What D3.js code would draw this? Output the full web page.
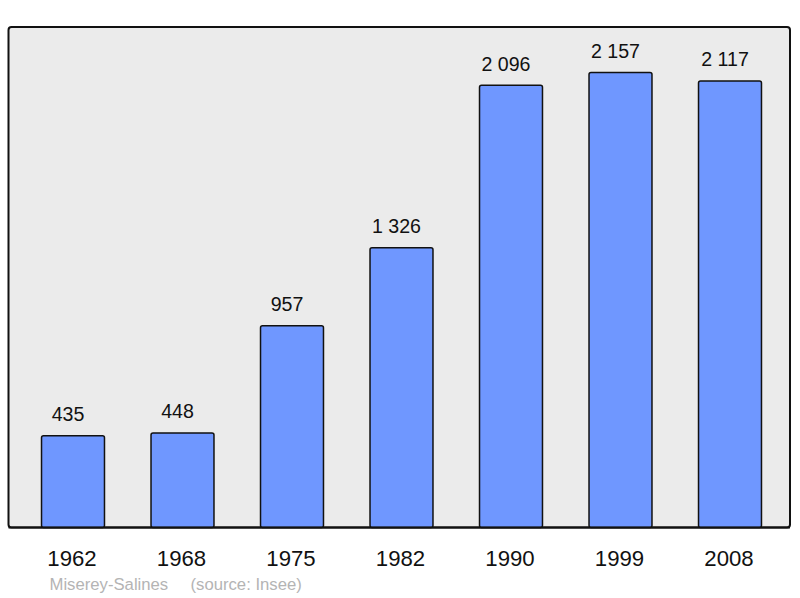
<!DOCTYPE html>
<html>
<head>
<meta charset="utf-8">
<script src="https://cdn.jsdelivr.net/npm/d3@7"></script>
<style>
  body { margin: 0; background: #fff; }
  text { font-family: "Liberation Sans", Arial, sans-serif; }
</style>
</head>
<body>
<div id="chart"></div>
<script>
// population by census year
var years = ["1962", "1968", "1975", "1982", "1990", "1999", "2008"];
var population = [435, 448, 957, 1326, 2096, 2157, 2117];
var valueLabels = ["435", "448", "957", "1 326", "2 096", "2 157", "2 117"];
var townName = "Miserey-Salines";
var sourceText = "(source: Insee)";

var width = 800, height = 598;
var panel = {left: 8.5, top: 27, right: 790, bottom: 527.5};

var svg = d3.select("#chart")
  .append("svg")
    .attr("width", width)
    .attr("height", height);

// background panel
svg.append("rect")
  .attr("x", panel.left)
  .attr("y", panel.top)
  .attr("width", panel.right - panel.left)
  .attr("height", panel.bottom - panel.top)
  .attr("rx", 3)
  .attr("fill", "#ebebeb")
  .attr("stroke", "#111")
  .attr("stroke-width", 2);

var x = d3.scaleBand()
  .domain(years)
  .range([18.25, 784.75])
  .paddingInner(0.425)
  .paddingOuter(0.2125);

var y = d3.scaleLinear()
  .domain([0, d3.max(population) * 1.1])
  .range([panel.bottom, panel.top]);

var bars = svg.append("g");

bars.selectAll("rect")
  .data(population)
  .enter().append("rect")
    .attr("x", function(d, i) { return x(years[i]); })
    .attr("y", function(d) { return y(d); })
    .attr("width", x.bandwidth())
    .attr("height", function(d) { return y(0) - y(d); })
    .attr("rx", 2)
    .attr("fill", "#6f97ff")
    .attr("stroke", "#111")
    .attr("stroke-width", 1.5);

// value above each bar (sits a little left of centre in the original)
bars.selectAll("text.value")
  .data(population)
  .enter().append("text")
    .attr("class", "value")
    .attr("x", function(d, i) { return x(years[i]) + x.bandwidth() / 2 - 5; })
    .attr("y", function(d) { return y(d) - 14.5; })
    .attr("text-anchor", "middle")
    .attr("font-size", 19.6)
    .attr("fill", "#111")
    .text(function(d, i) { return valueLabels[i]; });

// redraw bottom edge over the bars
svg.append("line")
  .attr("x1", panel.left)
  .attr("x2", panel.right)
  .attr("y1", panel.bottom)
  .attr("y2", panel.bottom)
  .attr("stroke", "#111")
  .attr("stroke-width", 2);

// year labels
svg.append("g")
  .selectAll("text")
  .data(years)
  .enter().append("text")
    .attr("x", function(d) { return x(d) + x.bandwidth() / 2 - 1; })
    .attr("y", 566)
    .attr("text-anchor", "middle")
    .attr("font-size", 22.2)
    .attr("fill", "#111")
    .text(function(d) { return d; });

// caption
var caption = svg.append("g")
  .attr("font-size", 16.7)
  .attr("fill", "#b4b4b4");

caption.append("text")
  .attr("x", 49.5)
  .attr("y", 590)
  .text(townName);

caption.append("text")
  .attr("x", 190.5)
  .attr("y", 590)
  .text(sourceText);
</script>
</body>
</html>
